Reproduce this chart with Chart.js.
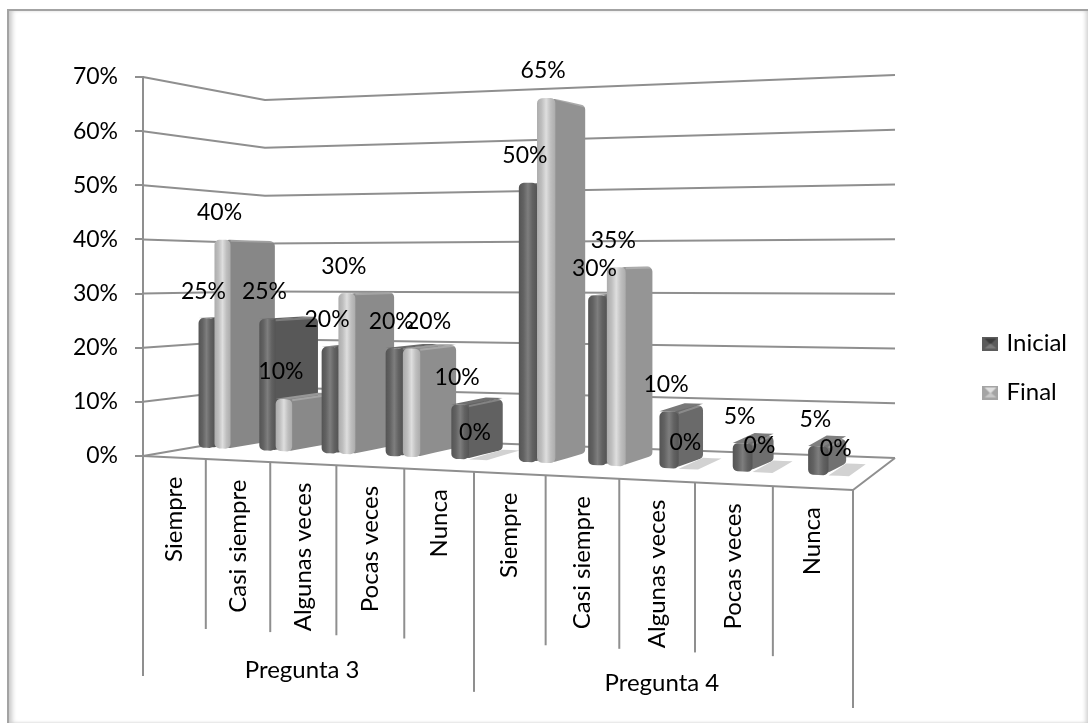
<!DOCTYPE html>
<html lang="es">
<head>
<meta charset="utf-8">
<title>Pregunta 3 y 4</title>
<style>
    html, body { margin: 0; padding: 0; background: #fff; }
    #frame {
        position: absolute; left: 7px; top: 9px; width: 1079px; height: 712px;
        border-left: 2px solid #a3a3a3; border-top: 2px solid #a3a3a3;
        box-shadow: inset 5px 0 5px -2px #c8c8c8, inset -4px 0 4px -2px #cfcfcf, inset 0 -2px 3px -2px #e6e6e6;
    }
    #chart { position: absolute; left: 0; top: 0; }
</style>
<script src="https://cdn.jsdelivr.net/npm/chart.js@4"></script>
</head>
<body>
<div id="frame"></div>
<canvas id="chart" width="1088" height="723"></canvas>
<script>
const categories = ['Siempre', 'Casi siempre', 'Algunas veces', 'Pocas veces', 'Nunca',
    'Siempre', 'Casi siempre', 'Algunas veces', 'Pocas veces', 'Nunca'];
const groups = ['Pregunta 3', 'Pregunta 4'];
const inicial = [25, 25, 20, 20, 10, 50, 30, 10, 5, 5];
const final = [40, 10, 30, 20, 0, 65, 35, 0, 0, 0];

const FONT = "Lato, sans-serif";
const VALUE_SIZE = 23;
const TEXT_SIZE = 24;
const LINE = '#8f8f8f';

// Floor corners and wall heights of the 3D box (f = front, b = back, l/r = left/right)
const box = {
    fl: [143, 456, 379], fr: [853, 490, 440],
    bl: [265, 435, 335], br: [895, 458, 383]
};
const PERSPECTIVE = 1.145;
const BAR_FRONT = 0.34;
const BAR_BACK = 0.72;

// t runs along the categories (0..1), d runs from the front edge to the back wall (0..1)
function warp(t) {
    return t / (t + (1 - t) * PERSPECTIVE);
}

function project(t, d, frac) {
    const s = warp(t);
    const mix = i => (1 - d) * ((1 - s) * box.fl[i] + s * box.fr[i]) + d * ((1 - s) * box.bl[i] + s * box.br[i]);
    return [mix(0), mix(1) - mix(2) * frac];
}

function poly(ctx, pts, r) {
    ctx.beginPath();
    const n = pts.length;
    const mid = (a, b) => [(a[0] + b[0]) / 2, (a[1] + b[1]) / 2];
    const start = mid(pts[n - 1], pts[0]);
    ctx.moveTo(start[0], start[1]);
    pts.forEach((p, i) => {
        const next = mid(p, pts[(i + 1) % n]);
        if (r > 0) {
            ctx.arcTo(p[0], p[1], next[0], next[1], r);
        } else {
            ctx.lineTo(p[0], p[1]);
        }
        ctx.lineTo(next[0], next[1]);
    });
    ctx.closePath();
}

function strokeLine(ctx, pts, color, width) {
    ctx.beginPath();
    pts.forEach((p, i) => i ? ctx.lineTo(p[0], p[1]) : ctx.moveTo(p[0], p[1]));
    ctx.strokeStyle = color;
    ctx.lineWidth = width;
    ctx.stroke();
}

function grey(v) {
    const c = Math.round(v);
    return `rgb(${c},${c},${c})`;
}

// Front, side and top faces of one column
function drawColumn(ctx, chart, el, look) {
    const area = chart.chartArea;
    const t0 = (el.x - el.width / 2 - area.left) / area.width;
    const t1 = (el.x + el.width / 2 - area.left) / area.width;
    const frac = (el.base - el.y) / area.height;
    const a = project(t0, BAR_FRONT, 0), b = project(t1, BAR_FRONT, 0);
    const c = project(t1, BAR_BACK, 0), e = project(t0, BAR_BACK, 0);
    const lift = p => [p[0], p[1] - 2];
    if (frac === 0) {
        poly(ctx, [a, b, c, e].map(lift), 0);
        ctx.fillStyle = '#d2d2d2';
        ctx.fill();
        return;
    }
    const at = project(t0, BAR_FRONT, frac), bt = project(t1, BAR_FRONT, frac);
    const ct = project(t1, BAR_BACK, frac), et = project(t0, BAR_BACK, frac);
    const sideShade = look.side[0] + (look.side[1] - look.side[0]) * warp(t0);

    // the top only shows on columns lower than the eye line
    if (at[1] - et[1] > 1) {
        poly(ctx, [at, bt, ct, et].map(lift), 0);
        ctx.fillStyle = grey(sideShade + 14);
        ctx.fill();
    }

    // the side runs a little under the front so its rounded corners stay hidden there
    const under = p => [p[0] - 6, p[1] - 2];
    poly(ctx, [under(b), lift(c), lift(ct), under(bt)], 5);
    ctx.fillStyle = grey(sideShade);
    ctx.fill();
    strokeLine(ctx, [bt, ct].map(p => [p[0], p[1] - 1]), 'rgba(255,255,255,0.22)', 2);

    const g = ctx.createLinearGradient(a[0], 0, b[0], 0);
    g.addColorStop(0, grey(look.front[0]));
    g.addColorStop(0.25, grey(look.front[1]));
    g.addColorStop(0.5, grey(look.front[2]));
    g.addColorStop(0.75, grey(look.front[1]));
    g.addColorStop(1, grey(look.front[0]));
    poly(ctx, [a, b, bt, at].map(lift), 5);
    ctx.fillStyle = g;
    ctx.fill();
}

const looks = [
    { front: [84, 98, 126], side: [84, 116] },
    { front: [172, 190, 222], side: [134, 158] }
];

// Offsets of the group captions from the front edge below each group
const groupOffsets = [[-1, 207], [5, 203]];

// Sideways nudge of the value labels, per series and category, so they do not collide
const labelNudge = [
    [0, 0, 0, 0, 0, 0, 0, 0, 0, 0],
    [0, 0, 0, 20, 0, 0, 0, 0, 0, 0]
];

const box3d = {
    id: 'box3d',
    beforeDatasetsDraw(chart) {
        const ctx = chart.ctx;
        const y = chart.scales.y;
        const area = chart.chartArea;
        ctx.save();
        ctx.lineJoin = 'round';

        // back walls
        y.ticks.forEach(tick => {
            const f = (area.bottom - y.getPixelForValue(tick.value)) / area.height;
            strokeLine(ctx, [project(0, 0, f), project(0, 1, f), project(1, 1, f)], LINE, 2);
        });

        // floor edges
        strokeLine(ctx, [project(0, 0, 0), project(1, 0, 0), project(1, 1, 0)], LINE, 2);

        // category separators and labels hanging from the front edge
        ctx.fillStyle = '#000';
        ctx.font = `${TEXT_SIZE}px ${FONT}`;
        ctx.textBaseline = 'middle';
        categories.forEach((name, i) => {
            const p = project(i / categories.length, 0, 0);
            const long = i % 5 === 0;
            strokeLine(ctx, [p, [p[0], p[1] + (long ? 220 : 170)]], LINE, 2);
            const m = project((i + 0.5) / categories.length, 0, 0);
            ctx.save();
            ctx.translate(m[0], m[1] + 19);
            ctx.rotate(-Math.PI / 2);
            ctx.textAlign = 'right';
            ctx.fillText(name, 0, 0);
            ctx.restore();
        });
        const end = project(1, 0, 0);
        strokeLine(ctx, [end, [end[0], end[1] + 218]], LINE, 2);

        ctx.textAlign = 'center';
        groups.forEach((name, i) => {
            const m = project((i + 0.5) / groups.length, 0, 0);
            ctx.fillText(name, m[0] + groupOffsets[i][0], m[1] + groupOffsets[i][1]);
        });

        // columns, left to right so nearer ones cover the sides of the previous
        const metas = chart.data.datasets.map((_, i) => chart.getDatasetMeta(i));
        categories.forEach((_, i) => {
            metas.forEach((meta, k) => drawColumn(ctx, chart, meta.data[i], looks[k]));
        });

        // value labels
        ctx.fillStyle = '#000';
        ctx.font = `${VALUE_SIZE}px ${FONT}`;
        metas.forEach((meta, k) => {
            const values = chart.data.datasets[k].data;
            meta.data.forEach((el, i) => {
                const t = (el.x - area.left) / area.width;
                const p = project(t, BAR_FRONT, (el.base - el.y) / area.height);
                ctx.fillText(values[i] + '%', p[0] - 3 + labelNudge[k][i], p[1] - 29);
            });
        });
        ctx.restore();
        return false;
    }
};

// Small bevelled swatch used as the legend marker
function swatch(outer, inner, light) {
    const c = document.createElement('canvas');
    c.width = 16;
    c.height = 14;
    const g = c.getContext('2d');
    g.fillStyle = outer;
    g.fillRect(0, 0, 16, 14);
    g.fillStyle = light;
    g.beginPath();
    g.moveTo(2, 2); g.lineTo(14, 2); g.lineTo(8, 8); g.closePath();
    g.fill();
    g.fillStyle = inner;
    g.beginPath();
    g.moveTo(2, 12); g.lineTo(14, 12); g.lineTo(8, 7); g.closePath();
    g.fill();
    return c;
}

new Chart(document.getElementById('chart'), {
    type: 'bar',
    plugins: [box3d],
    data: {
        labels: categories,
        datasets: [
            { label: 'Inicial', data: inicial, backgroundColor: '#606060', pointStyle: swatch('#5c5c5c', '#7c7c7c', '#3c3c3c') },
            { label: 'Final', data: final, backgroundColor: '#b8b8b8', pointStyle: swatch('#a4a4a4', '#c8c8c8', '#e0e0e0') }
        ]
    },
    options: {
        responsive: false,
        animation: false,
        events: [],
        categoryPercentage: 0.53,
        barPercentage: 1,
        layout: { padding: { top: 77, bottom: 64, left: 0, right: 11 } },
        plugins: {
            tooltip: { enabled: false },
            legend: {
                position: 'right',
                labels: {
                    usePointStyle: true,
                    boxWidth: 8,
                    color: '#000',
                    font: { family: FONT, size: TEXT_SIZE },
                    padding: 25
                }
            }
        },
        scales: {
            x: {
                ticks: { display: false },
                grid: { display: false },
                border: { display: false },
                afterFit(scale) { scale.height = 203; }
            },
            y: {
                min: 0,
                max: 70,
                ticks: {
                    stepSize: 10,
                    padding: 17,
                    color: '#000',
                    font: { family: FONT, size: VALUE_SIZE },
                    callback: value => value + '%'
                },
                grid: { drawOnChartArea: false, tickLength: 8, color: LINE, lineWidth: 2 },
                border: { color: LINE, width: 2 },
                afterFit(scale) { scale.width = 143; }
            }
        }
    }
});
</script>
</body>
</html>
